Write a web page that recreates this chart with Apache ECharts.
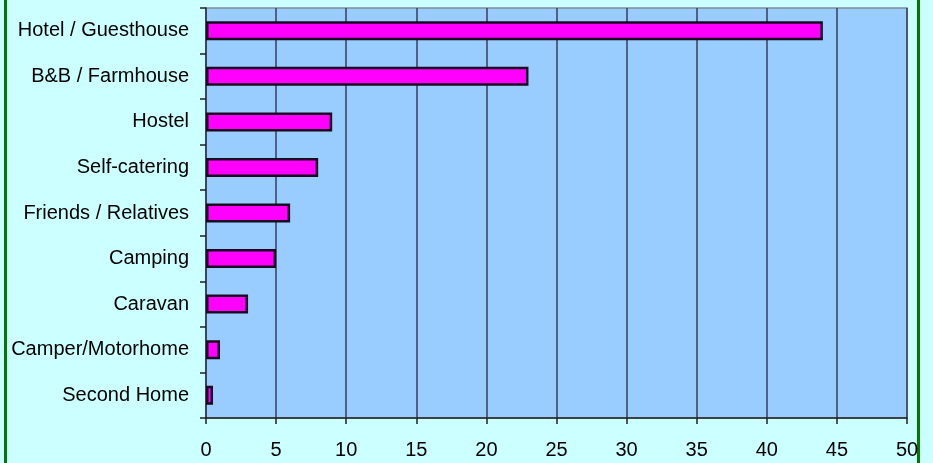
<!DOCTYPE html>
<html>
<head>
<meta charset="utf-8">
<script src="https://cdn.jsdelivr.net/npm/echarts@6/dist/echarts.min.js"></script>
<style>
  html, body { margin: 0; padding: 0; background: #CCFFFF; }
  #chart { width: 933px; height: 463px; }
</style>
</head>
<body>
<div id="chart"></div>
<script>
// Accommodation types (top to bottom) and their shares
const categories = [
  'Hotel / Guesthouse',
  'B&B / Farmhouse',
  'Hostel',
  'Self-catering',
  'Friends / Relatives',
  'Camping',
  'Caravan',
  'Camper/Motorhome',
  'Second Home'
];
const values = [44, 23, 9, 8, 6, 5, 3, 1, 0.5];
const xTicks = [0, 5, 10, 15, 20, 25, 30, 35, 40, 45, 50];

const chart = echarts.init(document.getElementById('chart'), null, { renderer: 'canvas' });

const font = '"Liberation Sans", Arial, sans-serif';

chart.setOption({
  backgroundColor: '#CCFFFF',
  animation: false,
  graphic: [
    { type: 'rect', shape: { x: 4, y: 0, width: 3, height: 463 }, style: { fill: '#007A00' }, silent: true },
    { type: 'rect', shape: { x: 917, y: 0, width: 3, height: 463 }, style: { fill: '#007A00' }, silent: true }
  ],
  grid: {
    left: 206,
    right: 26,
    top: 8,
    bottom: 45,
    show: true,
    backgroundColor: '#99CCFF',
    borderColor: '#7f8a96',
    borderWidth: 1.5
  },
  xAxis: {
    type: 'value',
    min: xTicks[0],
    max: xTicks[xTicks.length - 1],
    interval: xTicks[1] - xTicks[0],
    axisLine: { show: true, onZero: false, lineStyle: { color: '#222', width: 1.5 } },
    axisTick: { show: true, length: 6, lineStyle: { color: '#222', width: 1.5 } },
    axisLabel: { color: '#000', fontFamily: font, fontSize: 20, margin: 22 },
    splitLine: { show: true, lineStyle: { color: '#3a3f55', width: 1.5 } }
  },
  yAxis: {
    type: 'category',
    data: categories,
    inverse: true,
    axisLine: { show: true, lineStyle: { color: '#3a3f55', width: 1.5 } },
    axisTick: { show: true, length: 6, lineStyle: { color: '#222', width: 1.5 } },
    axisLabel: { color: '#000', fontFamily: font, fontSize: 20, margin: 17 },
    splitLine: { show: false }
  },
  series: [{
    type: 'bar',
    data: values,
    barWidth: 19,
    itemStyle: { color: '#FF00FF', borderColor: '#1a0a1f', borderWidth: 2.5 }
  }]
});
</script>
</body>
</html>
